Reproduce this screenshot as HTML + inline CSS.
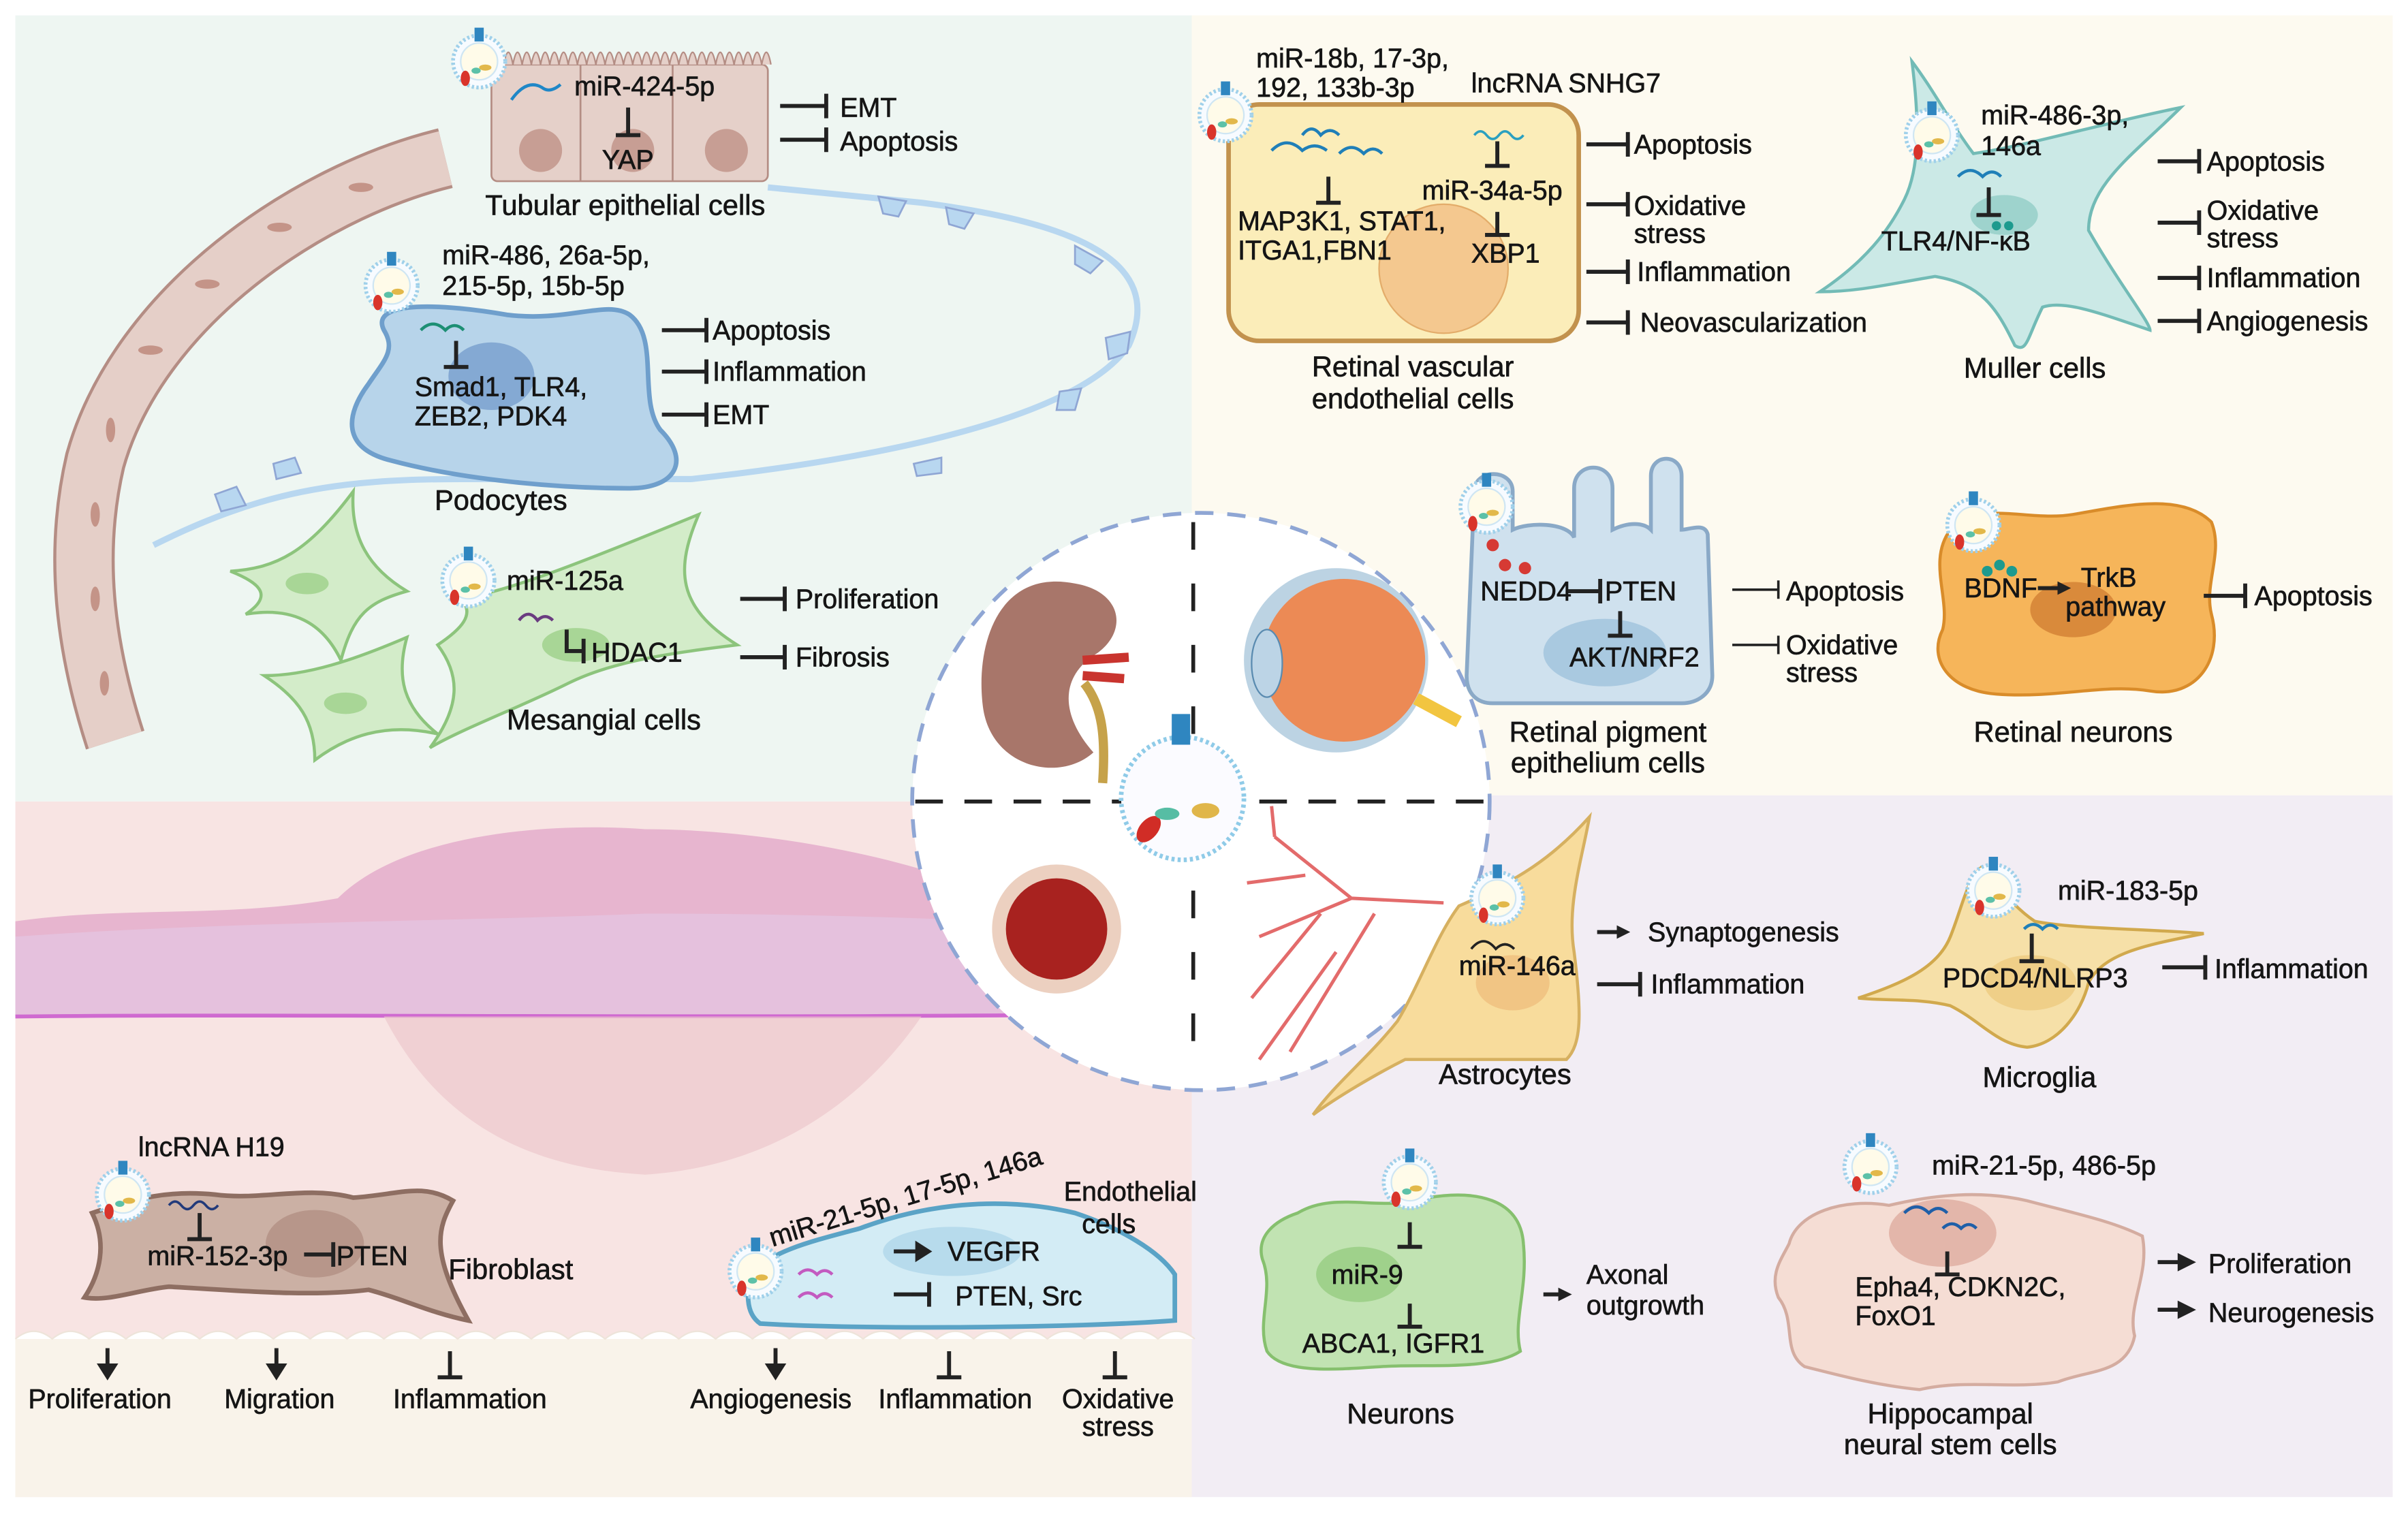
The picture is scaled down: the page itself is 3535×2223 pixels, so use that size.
<!DOCTYPE html>
<html><head><meta charset="utf-8"><style>
html,body{margin:0;padding:0;background:#fff;}
svg{display:block}
text{font-family:"Liberation Sans",sans-serif;font-size:17.5px;fill:#151515;stroke:#151515;stroke-width:0.3}
.c{text-anchor:middle}
.i{stroke:#222;stroke-width:2.6;fill:none}
.th{stroke:#222;stroke-width:1.6;fill:none}
</style></head><body>
<svg width="3535" height="2223" viewBox="0 0 1568 986" xmlns="http://www.w3.org/2000/svg">
<defs>
<marker id="ah" viewBox="0 0 10 10" refX="6" refY="5" markerWidth="3.4" markerHeight="3.4" orient="auto"><path d="M0 0 L10 5 L0 10 z" fill="#222"/></marker>
<g id="exo"><circle r="17" fill="#f7fbff" stroke="#9fd0ea" stroke-width="2.5" stroke-dasharray="1.5 1.5"/><circle r="12" fill="#fffbe9" stroke="#cfe6f3"/><rect x="-3" y="-22" width="6" height="9" fill="#2f86c0"/><ellipse cx="-9" cy="11" rx="3" ry="5" fill="#d9342b"/><ellipse cx="4" cy="4" rx="4" ry="2" fill="#e2b84a"/><ellipse cx="-2" cy="6" rx="3" ry="2" fill="#5cc1a8"/></g>
</defs>
<rect width="1568" height="986" fill="#fff"/>
<rect x="10" y="10" width="766" height="512" fill="#eef6f2"/>
<rect x="776" y="10" width="782" height="508" fill="#fdfaf0"/>
<rect x="10" y="522" width="766" height="453" fill="#f8e4e3"/>
<rect x="776" y="518" width="782" height="457" fill="#f2edf4"/>
<path d="M10 600 C80 590 150 598 220 585 C260 545 350 535 420 540 C500 540 600 560 650 585 L776 590 L776 662 L10 662 z" fill="#e7b5cf"/>
<path d="M10 610 C150 600 300 600 420 595 C550 595 650 600 776 605 L776 662 L10 662z" fill="#e5c4e0" opacity=".8"/>
<path d="M10 662 C200 660 500 664 776 660" stroke="#cf6ad0" stroke-width="2.5" fill="none"/>
<path d="M250 662 C280 720 330 760 420 765 C500 760 560 720 600 662z" fill="#ecc8cc" opacity=".7"/>
<rect x="10" y="872" width="766" height="103" fill="#f9f3ea"/>
<path d="M10 872 q12 -10 24 0 q12 -10 24 0 q12 -10 24 0 q12 -10 24 0 q12 -10 24 0 q12 -10 24 0 q12 -10 24 0 q12 -10 24 0 q12 -10 24 0 q12 -10 24 0 q12 -10 24 0 q12 -10 24 0 q12 -10 24 0 q12 -10 24 0 q12 -10 24 0 q12 -10 24 0 q12 -10 24 0 q12 -10 24 0 q12 -10 24 0 q12 -10 24 0 q12 -10 24 0 q12 -10 24 0 q12 -10 24 0 q12 -10 24 0 q12 -10 24 0 q12 -10 24 0 q12 -10 24 0 q12 -10 24 0 q12 -10 24 0 q12 -10 24 0 q12 -10 24 0 q12 -10 24 0" fill="#fff" stroke="#eee4da"/>

<circle cx="782" cy="522" r="188" fill="#fff" stroke="#8fa6d4" stroke-width="2.5" stroke-dasharray="12 9"/>
<path d="M596 522 H968" stroke="#222" stroke-width="2.5" stroke-dasharray="18 14"/>
<path d="M777 340 V700" stroke="#222" stroke-width="2.5" stroke-dasharray="18 22"/>
<path d="M700 380 C650 370 635 420 640 460 C645 500 690 510 712 490 C690 465 690 440 715 425 C735 410 730 385 700 380z" fill="#a8766a"/>
<path d="M705 430 L735 428 M705 440 L732 442" stroke="#c9342e" stroke-width="6"/>
<path d="M706 445 C718 460 720 480 718 510" stroke="#c6a24a" stroke-width="6" fill="none"/>
<circle cx="870" cy="430" r="60" fill="#bcd3e3"/>
<circle cx="875" cy="430" r="53" fill="#ec8a55"/>
<path d="M922 455 L950 470" stroke="#f2c540" stroke-width="8"/>
<ellipse cx="825" cy="432" rx="10" ry="22" fill="#bcd4e6" stroke="#5a8bb0"/>
<circle cx="770" cy="520" r="40" fill="#fbfbff" stroke="#8fcbe8" stroke-width="3" stroke-dasharray="2 2"/>
<rect x="763" y="465" width="12" height="20" fill="#2f86c0"/>
<ellipse cx="748" cy="540" rx="6" ry="10" fill="#d12d26" transform="rotate(40 748 540)"/>
<ellipse cx="760" cy="530" rx="8" ry="4" fill="#56bda4"/><ellipse cx="785" cy="528" rx="9" ry="5" fill="#e0b64a"/>
<circle cx="688" cy="605" r="42" fill="#ecd0c0"/>
<circle cx="688" cy="605" r="33" fill="#a8221f"/>
<g stroke="#e36b6b" stroke-width="2.2" fill="none">
<path d="M940 588 L880 585 L830 545 M880 585 L820 610 M860 595 L815 650 M895 595 L840 685 M850 570 L812 575 M870 620 L820 690 M830 545 L828 525"/>
</g>

<path d="M290 103 C200 125 90 200 62 300 C48 360 55 420 75 482" stroke="#b48d84" stroke-width="40" fill="none"/>
<path d="M290 103 C200 125 90 200 62 300 C48 360 55 420 75 482" stroke="#e5cfc8" stroke-width="36" fill="none"/>
<g fill="#c49488"><ellipse cx="235" cy="122" rx="8" ry="3"/><ellipse cx="182" cy="148" rx="8" ry="3"/><ellipse cx="135" cy="185" rx="8" ry="3"/><ellipse cx="98" cy="228" rx="8" ry="3"/><ellipse cx="72" cy="280" rx="3" ry="8"/><ellipse cx="62" cy="335" rx="3" ry="8"/><ellipse cx="62" cy="390" rx="3" ry="8"/><ellipse cx="68" cy="445" rx="3" ry="8"/></g>
<path d="M100 355 C170 320 220 312 300 312 L450 312 C560 300 700 275 735 225 C760 170 700 145 600 132 L500 122" stroke="#b8d7f0" stroke-width="4" fill="none"/>
<g fill="#b8d7f0" stroke="#8fa6d4" stroke-width="1.2"><path d="M572 128 l18 3 -5 10 -10 -2z"/><path d="M616 135 l18 4 -6 10 -10 -3z"/><path d="M700 160 l18 10 -8 8 -10 -6z"/><path d="M720 220 l16 -4 -2 14 -12 4z"/><path d="M690 255 l14 -2 -4 14 -12 0z"/><path d="M595 302 l18 -4 0 10 -16 2z"/><path d="M140 322 l14 -5 6 12 -16 4z"/><path d="M178 302 l14 -4 4 10 -16 4z"/></g>
<g stroke="#b48d84" stroke-width="1.2" fill="#e5d0c9">
<rect x="320" y="42" width="180" height="76" rx="4"/>
<line x1="378" y1="42" x2="378" y2="118"/><line x1="438" y1="42" x2="438" y2="118"/>
</g>
<path d="M322 42 q3 -16 6 0 q3 -16 6 0 q3 -16 6 0 q3 -16 6 0 q3 -16 6 0 q3 -16 6 0 q3 -16 6 0 q3 -16 6 0 q3 -16 6 0 q3 -16 6 0 q3 -16 6 0 q3 -16 6 0 q3 -16 6 0 q3 -16 6 0 q3 -16 6 0 q3 -16 6 0 q3 -16 6 0 q3 -16 6 0 q3 -16 6 0 q3 -16 6 0 q3 -16 6 0 q3 -16 6 0 q3 -16 6 0 q3 -16 6 0 q3 -16 6 0 q3 -16 6 0 q3 -16 6 0 q3 -16 6 0 q3 -16 6 0 q3 -16 6 0" fill="#e5d0c9" stroke="#b48d84"/>
<g fill="#c79e94"><circle cx="352" cy="98" r="14"/><circle cx="412" cy="98" r="14"/><circle cx="473" cy="98" r="14"/></g>
<use href="#exo" x="312" y="40"/>
<path d="M333 65 q10 -14 20 -8 q5 4 12 -2" stroke="#1f87c7" stroke-width="2" fill="none"/>
<text x="374" y="62">miR-424-5p</text>
<path class="i" d="M409 70 V88 M401 88 H417"/>
<text x="392" y="110">YAP</text>
<path class="i" d="M508 69 H538 M538 61 V77 M508 91 H538 M538 83 V99"/>
<text x="547" y="76">EMT</text><text x="547" y="98">Apoptosis</text>
<text x="316" y="140" style="font-size:18.5px">Tubular epithelial cells</text>
<path d="M250 215 C240 195 290 198 330 205 C370 210 395 195 410 205 C430 220 415 260 430 280 C450 300 440 318 410 318 C360 318 300 312 255 300 C222 292 225 270 240 250 C250 235 258 228 250 215z" fill="#b7d4ea" stroke="#6f9fcc" stroke-width="3"/>
<ellipse cx="320" cy="245" rx="28" ry="22" fill="#6d97c9" opacity=".7"/>
<use href="#exo" x="255" y="186"/>
<path d="M274 215 q8 -8 16 0 q6 -6 12 0" stroke="#1d8f74" stroke-width="2" fill="none"/>
<text x="288" y="172">miR-486, 26a-5p,</text><text x="288" y="192">215-5p, 15b-5p</text>
<path class="i" d="M297 222 V239 M289 239 H305"/>
<text x="270" y="258">Smad1, TLR4,</text><text x="270" y="277">ZEB2, PDK4</text>
<path class="i" d="M431 215 H460 M460 207 V223 M431 242 H460 M460 234 V250 M431 270 H460 M460 262 V278"/>
<text x="464" y="221">Apoptosis</text><text x="464" y="248">Inflammation</text><text x="464" y="276">EMT</text>
<text x="283" y="332" style="font-size:18.5px">Podocytes</text>
<g fill="#d3ecc9" stroke="#8cc47c" stroke-width="2">
<path d="M150 372 C180 370 200 360 230 320 C228 350 240 370 265 385 C240 392 230 400 222 430 C210 405 190 395 160 400 C178 388 170 380 150 372z"/>
<path d="M172 440 C200 440 230 430 265 415 C258 440 262 460 285 478 C250 470 225 480 205 495 C205 470 195 455 172 440z"/>
<path d="M300 390 C330 385 370 370 455 335 C440 370 440 395 480 420 C440 425 400 430 370 445 C340 460 300 475 280 487 C300 460 300 440 285 420 C300 410 310 400 300 390z"/>
</g>
<ellipse cx="200" cy="380" rx="14" ry="7" fill="#a8d696"/><ellipse cx="225" cy="458" rx="14" ry="7" fill="#a8d696"/><ellipse cx="375" cy="420" rx="22" ry="11" fill="#a8d696"/>
<use href="#exo" x="305" y="378"/>
<path d="M338 404 q6 -8 12 0 q5 -5 10 0" stroke="#6a3c80" stroke-width="2" fill="none"/>
<text x="330" y="384">miR-125a</text>
<path class="i" d="M369 410 V424 H380 M380 416 V432"/>
<text x="385" y="431">HDAC1</text>
<path class="i" d="M482 390 H511 M511 382 V398 M482 428 H511 M511 420 V436"/>
<text x="518" y="396">Proliferation</text><text x="518" y="434">Fibrosis</text>
<text x="330" y="475" style="font-size:18.5px">Mesangial cells</text>

<rect x="800" y="68" width="228" height="154" rx="20" fill="#fbedb9" stroke="#c2924e" stroke-width="3"/>
<circle cx="940" cy="175" r="42" fill="#f4c88f" stroke="#e3ac6a"/>
<use href="#exo" x="798" y="75"/>
<path d="M828 98 q10 -10 20 0 q8 -6 16 0 M848 88 q6 -8 12 0 q6 -6 12 0 M872 100 q8 -8 16 0 q6 -6 12 0" stroke="#1f7fb8" stroke-width="2" fill="none"/>
<path d="M960 88 q4 -5 8 0 q4 5 8 0 q4 -5 8 0 q4 5 8 0" stroke="#2aa0c0" stroke-width="1.6" fill="none"/>
<text x="818" y="44">miR-18b, 17-3p,</text><text x="818" y="63">192, 133b-3p</text><text x="958" y="60">lncRNA SNHG7</text>
<path class="i" d="M865 115 V132 M857 132 H873 M975 92 V108 M967 108 H983 M975 138 V153 M967 153 H983"/>
<text x="806" y="150">MAP3K1, STAT1,</text><text x="806" y="169">ITGA1,FBN1</text>
<text x="926" y="130">miR-34a-5p</text><text x="958" y="171">XBP1</text>
<path class="i" d="M1033 94 H1060 M1060 86 V102 M1033 133 H1060 M1060 125 V141 M1033 177 H1060 M1060 169 V185 M1033 210 H1060 M1060 202 V218"/>
<text x="1064" y="100">Apoptosis</text><text x="1064" y="140">Oxidative</text><text x="1064" y="158">stress</text><text x="1066" y="183">Inflammation</text><text x="1068" y="216">Neovascularization</text>
<text x="920" y="245" class="c" style="font-size:18.5px">Retinal vascular</text><text x="920" y="266" class="c" style="font-size:18.5px">endothelial cells</text>
<path d="M1245 40 C1260 60 1270 80 1285 100 C1320 95 1370 80 1420 70 C1390 100 1360 120 1360 150 C1380 185 1400 210 1400 215 C1370 205 1345 195 1330 200 C1320 220 1320 230 1312 225 C1300 200 1290 185 1260 180 C1230 185 1210 190 1185 190 C1215 170 1230 150 1240 130 C1250 110 1250 80 1245 40z" fill="#cbe9e6" stroke="#72bbb6" stroke-width="2"/>
<ellipse cx="1305" cy="140" rx="22" ry="13" fill="#9ed3cd"/>
<use href="#exo" x="1258" y="88"/>
<path d="M1275 115 q8 -8 16 0 q6 -6 12 0" stroke="#1f7fb8" stroke-width="2" fill="none"/>
<text x="1290" y="81">miR-486-3p,</text><text x="1290" y="101">146a</text>
<path class="i" d="M1295 122 V140 M1287 140 H1303"/>
<circle cx="1300" cy="147" r="3" fill="#1d9a8e"/><circle cx="1308" cy="147" r="3" fill="#1d9a8e"/>
<text x="1225" y="163">TLR4/NF-κB</text>
<path class="i" d="M1405 105 H1432 M1432 97 V113 M1405 145 H1432 M1432 137 V153 M1405 181 H1432 M1432 173 V189 M1405 209 H1432 M1432 201 V217"/>
<text x="1437" y="111">Apoptosis</text><text x="1437" y="143">Oxidative</text><text x="1437" y="161">stress</text><text x="1437" y="187">Inflammation</text><text x="1437" y="215">Angiogenesis</text>
<text x="1325" y="246" class="c" style="font-size:18.5px">Muller cells</text>
<path d="M960 320 C960 305 985 305 985 320 L985 345 C995 340 1020 340 1025 350 L1025 318 C1025 300 1050 300 1050 318 L1050 345 C1060 340 1070 340 1075 345 L1075 310 C1075 295 1095 295 1095 310 L1095 345 C1100 345 1110 340 1112 348 L1115 440 C1115 452 1105 458 1095 458 L972 458 C962 458 955 452 955 440z" fill="#cfe1ee" stroke="#8aa9c7" stroke-width="2.5"/>
<ellipse cx="1045" cy="425" rx="40" ry="22" fill="#a9c9e0"/>
<g fill="#d63a34"><circle cx="972" cy="355" r="4"/><circle cx="980" cy="368" r="4"/><circle cx="993" cy="370" r="4"/></g>
<use href="#exo" x="968" y="330"/>
<text x="964" y="391">NEDD4</text>
<path class="i" d="M1021 385 H1042 M1042 377 V393"/>
<text x="1045" y="391">PTEN</text>
<path class="i" d="M1055 398 V414 M1047 414 H1063"/>
<text x="1022" y="434">AKT/NRF2</text>
<path class="th" d="M1128 384 H1158 M1158 378 V390 M1128 420 H1158 M1158 414 V426"/>
<text x="1163" y="391">Apoptosis</text><text x="1163" y="426">Oxidative</text><text x="1163" y="444">stress</text>
<text x="1047" y="483" class="c" style="font-size:18.5px">Retinal pigment</text><text x="1047" y="503" class="c" style="font-size:18.5px">epithelium cells</text>
<path d="M1270 345 C1290 325 1320 340 1350 335 C1380 330 1420 320 1440 340 C1448 360 1435 380 1440 400 C1448 430 1430 455 1400 450 C1370 445 1340 455 1300 452 C1270 450 1255 430 1265 410 C1270 390 1255 365 1270 345z" fill="#f6b55a" stroke="#d98c2a" stroke-width="2"/>
<ellipse cx="1350" cy="397" rx="28" ry="18" fill="#d98a3b"/>
<use href="#exo" x="1285" y="342"/>
<g fill="#1d9a8e"><circle cx="1294" cy="372" r="3.5"/><circle cx="1302" cy="368" r="3.5"/><circle cx="1310" cy="372" r="3.5"/></g>
<text x="1279" y="389">BDNF</text>
<path class="i" d="M1327 383 H1345" marker-end="url(#ah)"/>
<text x="1355" y="382">TrkB</text><text x="1345" y="401">pathway</text>
<path class="i" d="M1435 388 H1462 M1462 380 V396"/>
<text x="1468" y="394">Apoptosis</text>
<text x="1350" y="483" class="c" style="font-size:18.5px">Retinal neurons</text>

<path d="M1035 532 C1030 560 1020 590 1025 620 C1030 660 1030 680 1020 690 C980 690 940 690 915 690 C895 700 870 715 855 726 C870 705 890 690 910 665 C925 640 935 610 950 590 C985 575 1010 560 1035 532z" fill="#f8dc9c" stroke="#d6b060" stroke-width="2"/>
<ellipse cx="985" cy="640" rx="24" ry="18" fill="#f1c584"/>
<use href="#exo" x="975" y="585"/>
<path d="M958 618 q8 -10 16 0 q6 -6 12 0" stroke="#222" stroke-width="1.6" fill="none"/>
<text x="950" y="635">miR-146a</text>
<path class="i" d="M1040 607 H1058" marker-end="url(#ah)"/>
<path class="i" d="M1040 641 H1068 M1068 633 V649"/>
<text x="1073" y="613">Synaptogenesis</text><text x="1075" y="647">Inflammation</text>
<text x="980" y="706" class="c" style="font-size:18.5px">Astrocytes</text>
<path d="M1290 565 C1300 575 1310 590 1325 600 C1350 605 1400 605 1435 608 C1400 615 1370 620 1360 640 C1355 660 1340 680 1320 682 C1300 680 1290 665 1270 655 C1250 650 1230 652 1210 650 C1240 640 1262 630 1270 610 C1278 590 1280 575 1290 565z" fill="#f6e0a8" stroke="#d1a94d" stroke-width="2"/>
<ellipse cx="1322" cy="640" rx="30" ry="18" fill="#efcf88"/>
<use href="#exo" x="1298" y="580"/>
<path d="M1318 605 q6 -6 12 0 q5 -5 10 0" stroke="#1f7fb8" stroke-width="2" fill="none"/>
<text x="1340" y="586">miR-183-5p</text>
<path class="i" d="M1323 608 V626 M1315 626 H1331"/>
<text x="1265" y="643">PDCD4/NLRP3</text>
<path class="i" d="M1408 630 H1436 M1436 622 V638"/>
<text x="1442" y="637">Inflammation</text>
<text x="1328" y="708" class="c" style="font-size:18.5px">Microglia</text>
<path d="M845 790 C870 775 900 790 930 780 C960 775 990 780 992 810 C995 840 985 860 990 880 C970 893 930 888 900 890 C870 892 835 895 825 880 C818 860 830 840 822 820 C818 805 830 795 845 790z" fill="#c1e3b2" stroke="#86c06e" stroke-width="2"/>
<ellipse cx="885" cy="830" rx="28" ry="18" fill="#9fd18b"/>
<use href="#exo" x="918" y="770"/>
<path class="i" d="M918 796 V812 M910 812 H926 M918 849 V864 M910 864 H926"/>
<text x="867" y="836">miR-9</text><text x="848" y="881">ABCA1, IGFR1</text>
<path class="i" d="M1005 843 H1020" marker-end="url(#ah)"/>
<text x="1033" y="836">Axonal</text><text x="1033" y="856">outgrowth</text>
<text x="912" y="927" class="c" style="font-size:18.5px">Neurons</text>
<path d="M1165 810 C1170 790 1200 780 1230 785 C1260 778 1290 775 1320 782 C1350 790 1375 795 1395 805 C1400 830 1385 850 1390 870 C1385 895 1360 892 1340 900 C1310 905 1280 898 1250 905 C1220 902 1195 895 1175 890 C1160 880 1170 860 1158 845 C1152 830 1160 820 1165 810z" fill="#f5ddd4" stroke="#d4aca0" stroke-width="2"/>
<ellipse cx="1265" cy="803" rx="35" ry="22" fill="#e3b6aa"/>
<use href="#exo" x="1218" y="760"/>
<path d="M1240 790 q8 -8 16 0 q6 -6 12 0 M1265 800 q6 -6 12 0 q5 -5 10 0" stroke="#1f5fa8" stroke-width="2" fill="none"/>
<text x="1258" y="765">miR-21-5p, 486-5p</text>
<path class="i" d="M1268 815 V830 M1260 830 H1276"/>
<text x="1208" y="844">Epha4, CDKN2C,</text><text x="1208" y="863">FoxO1</text>
<path class="i" d="M1405 822 H1420 M1405 853 H1420"/>
<path d="M1418 816 L1430 822 L1418 828z M1418 847 L1430 853 L1418 859z" fill="#222"/>
<text x="1438" y="829">Proliferation</text><text x="1438" y="861">Neurogenesis</text>
<text x="1270" y="927" class="c" style="font-size:18.5px">Hippocampal</text><text x="1270" y="947" class="c" style="font-size:18.5px">neural stem cells</text>

<path d="M60 790 C90 780 110 775 140 778 C170 782 200 772 230 780 C260 778 275 770 295 782 C285 800 280 815 305 860 C280 855 260 845 240 840 C200 845 150 840 110 838 C90 840 70 848 55 845 C65 830 70 810 60 790z" fill="#cbb0a4" stroke="#8e6e62" stroke-width="3"/>
<ellipse cx="205" cy="810" rx="32" ry="22" fill="#b7968a"/>
<use href="#exo" x="80" y="778"/>
<path d="M110 785 q4 -5 8 0 q4 5 8 0 q4 -5 8 0 q4 5 8 0" stroke="#223a7a" stroke-width="1.6" fill="none"/>
<text x="90" y="753">lncRNA H19</text>
<path class="i" d="M130 790 V807 M122 807 H138"/>
<text x="96" y="824">miR-152-3p</text>
<path class="i" d="M198 817 H217 M217 809 V825"/>
<text x="219" y="824">PTEN</text>
<text x="292" y="833" style="font-size:18.5px">Fibroblast</text>
<path class="i" d="M70 878 V890 M180 878 V890" />
<path d="M63 888 L70 899 L77 888z M173 888 L180 899 L187 888z" fill="#222"/>
<path class="i" d="M293 880 V897 M285 897 H301"/>
<text x="65" y="917" class="c">Proliferation</text><text x="182" y="917" class="c">Migration</text><text x="306" y="917" class="c">Inflammation</text>
<path d="M490 830 C500 815 530 808 560 800 C600 785 650 778 700 790 C730 800 755 815 765 830 L765 860 C700 865 560 866 495 862 C485 855 486 840 490 830z" fill="#d3ecf5" stroke="#5aa3c6" stroke-width="3"/>
<ellipse cx="620" cy="815" rx="45" ry="16" fill="#b7dbec"/>
<use href="#exo" x="492" y="828"/>
<path d="M520 830 q6 -6 12 0 q5 -5 10 0 M520 845 q6 -6 12 0 q5 -5 10 0" stroke-width="2" fill="none" stroke="#c35bc0"/>
<text x="503" y="812" transform="rotate(-17 503 812)">miR-21-5p, 17-5p, 146a</text>
<text x="736" y="782" class="c">Endothelial</text><text x="722" y="803" class="c">cells</text>
<path class="i" d="M582 815 H598"/><path d="M596 808 L607 815 L596 822z" fill="#222"/>
<text x="617" y="821">VEGFR</text>
<path class="i" d="M582 843 H605 M605 835 V851"/>
<text x="622" y="850">PTEN, Src</text>
<path class="i" d="M505 878 V890"/><path d="M498 888 L505 899 L512 888z" fill="#222"/>
<path class="i" d="M618 880 V897 M610 897 H626 M726 880 V897 M718 897 H734"/>
<text x="502" y="917" class="c">Angiogenesis</text><text x="622" y="917" class="c">Inflammation</text><text x="728" y="917" class="c">Oxidative</text><text x="728" y="935" class="c">stress</text>
</svg>
</body></html>
